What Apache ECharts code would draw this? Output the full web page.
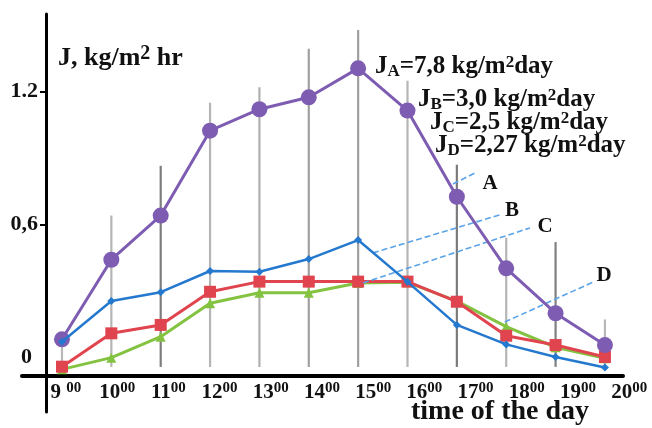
<!DOCTYPE html>
<html><head><meta charset="utf-8">
<script src="https://cdn.jsdelivr.net/npm/echarts@6/dist/echarts.min.js"></script>
<style>html,body{margin:0;padding:0;background:#fff}#c{width:652px;height:428px}</style>
</head><body><div id="c"></div>
<script>
// ---- data ----
const hours = [9, 10, 11, 12, 13, 14, 15, 16, 17, 18, 19, 20];
const seriesA = [0.080, 0.440, 0.640, 1.024, 1.121, 1.175, 1.306, 1.115, 0.725, 0.401, 0.198, 0.054];
const seriesB = [0.069, 0.253, 0.293, 0.389, 0.386, 0.443, 0.529, 0.340, 0.145, 0.057, 0.000, -0.048];
const seriesC = [-0.044, 0.107, 0.145, 0.295, 0.341, 0.341, 0.341, 0.341, 0.250, 0.096, 0.054, 0.000];
const seriesD = [-0.056, -0.003, 0.092, 0.243, 0.291, 0.291, 0.335, 0.338, 0.253, 0.137, 0.044, -0.006];
const errLow  = [-0.045, -0.045, -0.045, -0.045, -0.045, -0.045, -0.045, -0.045, -0.045, -0.045, -0.045, -0.045];
const errHigh = [0.080, 0.640, 0.865, 1.150, 1.220, 1.395, 1.480, 1.250, 0.870, 0.540, 0.520, 0.170];
const xTickMain = ['9 ', '10', '11', '12', '13', '14', '15', '16', '17', '18', '19', '20'];
const xTickSup = '00';
const yTickValues = [0, 0.6, 1.2];
const yTickLabels = ['0', '0,6', '1.2'];
const seriesNames = ['A', 'B', 'C', 'D'];
// pointer lines from the letters to the curves, in data units [hour, J]
const pointerA = [[16.92, 0.783], [17.37, 0.833]];
const pointerB = [[15.30, 0.471], [17.87, 0.643]];
const pointerC = [[15.10, 0.335], [18.48, 0.584]];
const pointerD = [[17.97, 0.158], [19.76, 0.339]];

// ---- chart ----
const F = '"Liberation Serif", "Times New Roman", serif';
const INK = '#111';
const chart = echarts.init(document.getElementById('c'), null, {renderer: 'canvas'});
const errShade = ['#b8b8b8', '#b5b5b5', '#7d7d7d', '#b5b5b5', '#b0b0b0', '#a0a0a0', '#a0a0a0', '#b5b5b5', '#7a7a7a', '#b5b5b5', '#808080', '#b8b8b8'];

const txtRich = {
  m:   {fontFamily: F, fontWeight: 'bold', fontSize: 25, fill: INK, lineHeight: 26, verticalAlign: 'middle'},
  sub: {fontFamily: F, fontWeight: 'bold', fontSize: 17, fill: INK, lineHeight: 13, verticalAlign: 'bottom'},
  sup: {fontFamily: F, fontWeight: 'bold', fontSize: 17, fill: INK, lineHeight: 13, verticalAlign: 'top'},
  tm:  {fontFamily: F, fontWeight: 'bold', fontSize: 26, fill: INK, lineHeight: 28, verticalAlign: 'middle'},
  ts:  {fontFamily: F, fontWeight: 'bold', fontSize: 20, fill: INK, lineHeight: 14, verticalAlign: 'top'}
};
function txt(x, y, text) {
  return {type: 'text', z: 100, style: {x: x, y: y, text: text, rich: txtRich, align: 'left', verticalAlign: 'middle'}};
}
function letter(x, y, t) {
  return {type: 'text', z: 100, style: {x: x, y: y, text: t, fontFamily: F, fontWeight: 'bold', fontSize: 21, fill: INK, align: 'center', verticalAlign: 'middle'}};
}
function ml(p) { return [{coord: p[0]}, {coord: p[1]}]; }

const option = {
  animation: false,
  backgroundColor: '#fff',
  grid: [
    {left: 22, right: 29, top: 14, bottom: 16},
    {left: 22, right: 0, top: 14, bottom: 16}
  ],
  xAxis: [
    {
      type: 'value', gridIndex: 0, min: 8.190, max: 20.366, offset: -36,
      axisLine: {show: true, onZero: false, lineStyle: {color: '#000', width: 4}},
      axisTick: {show: false}, axisLabel: {show: false}, splitLine: {show: false}
    },
    {
      type: 'value', gridIndex: 1, min: 8.141, max: 20.446, offset: -36,
      axisLine: {show: false, onZero: false}, axisTick: {show: false}, splitLine: {show: false},
      axisLabel: {
        show: true, margin: 5, customValues: hours,
        formatter: function (v) {
          const i = hours.indexOf(Math.round(v));
          return i < 0 ? '' : '{n|' + xTickMain[i] + '}{s|' + xTickSup + '}';
        },
        rich: {
          n: {fontFamily: F, fontWeight: 'bold', fontSize: 21, color: INK, lineHeight: 24, verticalAlign: 'middle'},
          s: {fontFamily: F, fontWeight: 'bold', fontSize: 15, color: INK, lineHeight: 14, verticalAlign: 'top'}
        }
      }
    }
  ],
  yAxis: [
    {
      type: 'value', gridIndex: 0, min: -0.249, max: 1.552, offset: -24,
      axisLine: {show: true, onZero: false, lineStyle: {color: '#000', width: 3}},
      axisTick: {show: true, customValues: [0.6, 1.2], length: 6, lineStyle: {color: '#000', width: 2}},
      splitLine: {show: false},
      axisLabel: {
        show: true, customValues: yTickValues, margin: 8,
        formatter: function (v) {
          const i = yTickValues.findIndex(t => Math.abs(t - v) < 1e-6);
          return i < 0 ? '' : (i === 0 ? '{z|' + yTickLabels[i] + '}' : yTickLabels[i]);
        },
        fontFamily: F, fontWeight: 'bold', fontSize: 22, color: INK,
        rich: {z: {fontFamily: F, fontWeight: 'bold', fontSize: 22, color: INK, padding: [0, 6, 0, 0]}}
      }
    },
    {type: 'value', gridIndex: 1, min: -0.249, max: 1.552, show: false}
  ],
  series: [
    {
      type: 'custom', xAxisIndex: 0, yAxisIndex: 0, z: 1, silent: true,
      data: hours.map((h, i) => [h, errLow[i], errHigh[i]]),
      encode: {x: 0, y: [1, 2]},
      renderItem: function (params, api) {
        const p1 = api.coord([api.value(0), api.value(1)]);
        const p2 = api.coord([api.value(0), api.value(2)]);
        return {type: 'line', shape: {x1: p1[0], y1: p1[1], x2: p2[0], y2: p2[1]},
          style: {stroke: errShade[params.dataIndex], lineWidth: 2.2}};
      }
    },
    {
      name: seriesNames[3], type: 'line', z: 3, xAxisIndex: 0, yAxisIndex: 0,
      data: hours.map((h, i) => [h, seriesD[i]]),
      symbol: 'triangle', symbolSize: 10, itemStyle: {color: '#84c341'},
      lineStyle: {color: '#84c341', width: 3}
    },
    {
      name: seriesNames[2], type: 'line', z: 4, xAxisIndex: 0, yAxisIndex: 0,
      data: hours.map((h, i) => [h, seriesC[i]]),
      symbol: 'rect', symbolSize: 12, itemStyle: {color: '#e0454f'},
      lineStyle: {color: '#e0454f', width: 3}
    },
    {
      name: seriesNames[0], type: 'line', z: 5, xAxisIndex: 0, yAxisIndex: 0,
      data: hours.map((h, i) => [h, seriesA[i]]),
      symbol: 'circle', symbolSize: 16, itemStyle: {color: '#7d5cb2'},
      lineStyle: {color: '#7d5cb2', width: 3}
    },
    {
      name: seriesNames[1], type: 'line', z: 6, xAxisIndex: 0, yAxisIndex: 0,
      data: hours.map((h, i) => [h, seriesB[i]]),
      symbol: 'diamond', symbolSize: 8, itemStyle: {color: '#2479cf'},
      lineStyle: {color: '#2479cf', width: 2.5},
      markLine: {
        silent: true, symbol: ['none', 'none'], label: {show: false},
        lineStyle: {type: [6, 3], color: '#5aa3e8', width: 1.6},
        data: [ml(pointerA), ml(pointerB), ml(pointerC), ml(pointerD)]
      }
    }
  ],
  graphic: [
    txt(58, 58, '{tm|J, kg/m}{ts|2}{tm| hr}'),
    txt(375, 67, '{m|J}{sub|A}{m|=7,8 kg/m}{sup|2}{m|day}'),
    txt(418, 100, '{m|J}{sub|B}{m|=3,0 kg/m}{sup|2}{m|day}'),
    txt(430, 123, '{m|J}{sub|C}{m|=2,5 kg/m}{sup|2}{m|day}'),
    txt(435, 146, '{m|J}{sub|D}{m|=2,27 kg/m}{sup|2}{m|day}'),
    letter(490, 184, seriesNames[0]),
    letter(512, 211, seriesNames[1]),
    letter(545, 227, seriesNames[2]),
    letter(604, 276, seriesNames[3]),
    {type: 'text', z: 100, style: {x: 500, y: 412, text: 'time of the day', fontFamily: F, fontWeight: 'bold', fontSize: 28, fill: INK, align: 'center', verticalAlign: 'middle'}}
  ]
};
chart.setOption(option);
</script>
</body></html>
